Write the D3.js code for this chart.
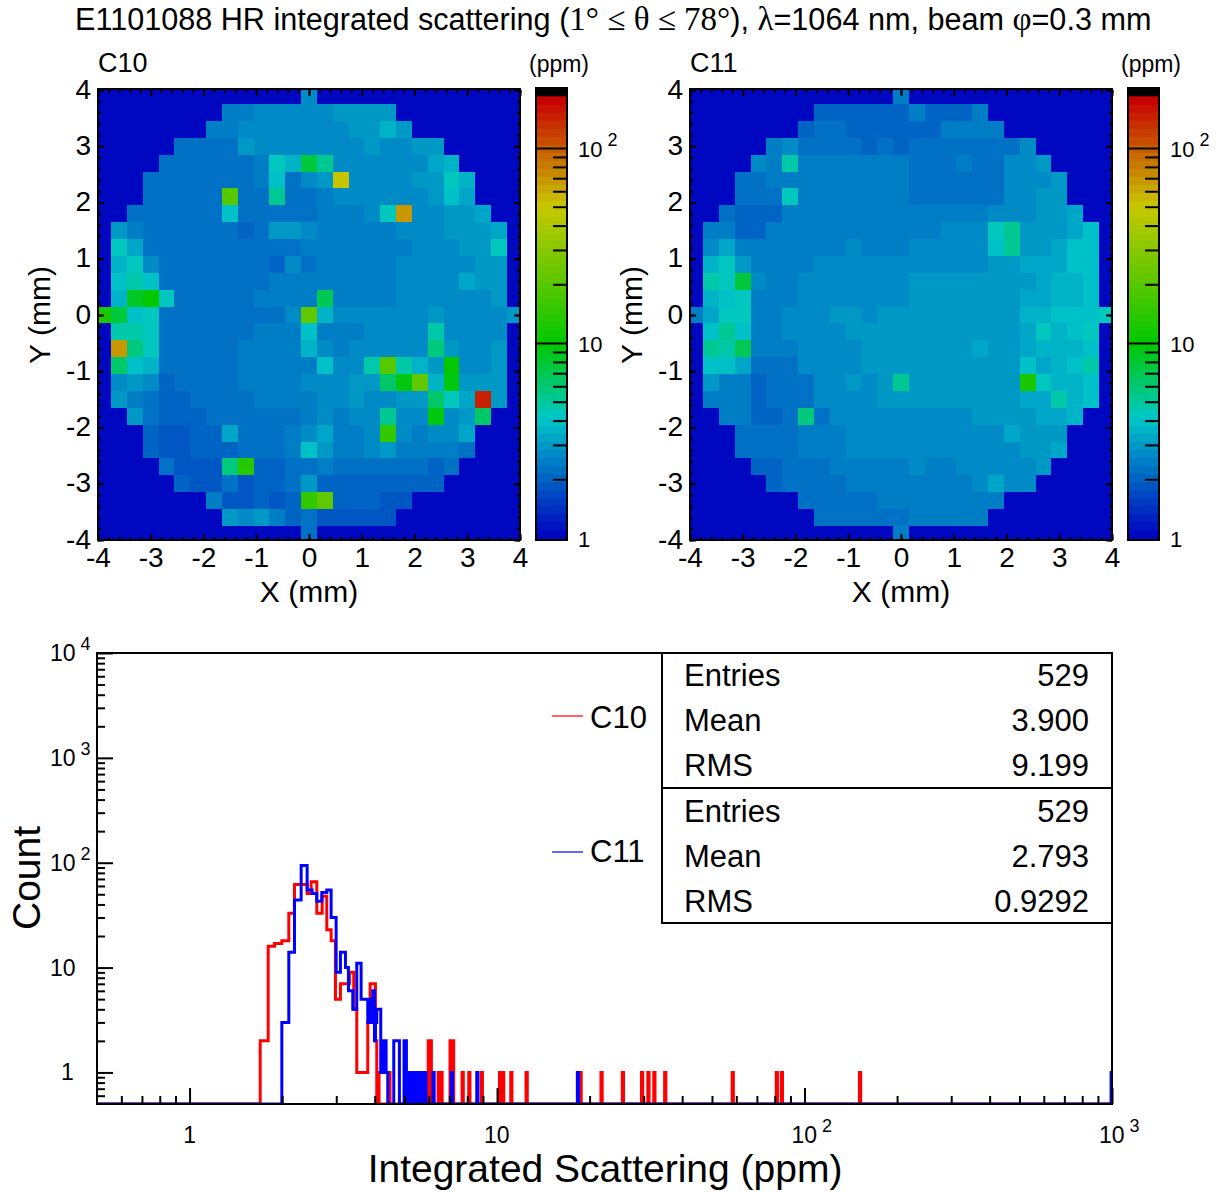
<!DOCTYPE html>
<html>
<head>
<meta charset="utf-8">
<script src="https://cdn.jsdelivr.net/npm/d3@7"></script>
<style>
  html, body { margin: 0; padding: 0; background: #fff; }
  svg { display: block; }
  text { font-family: "Liberation Sans", Arial, sans-serif; fill: #000; }
</style>
</head>
<body>
<svg id="chart" width="1225" height="1192"></svg>
<script>
// scattering per cell (ppm), top row is y=+3.9, left column is x=-3.9, 0 = not measured
var c10Rows = [
[0,0,0,0,0,0,0,0,0,0,0,0,0,2.8,0,0,0,0,0,0,0,0,0,0,0,0,0],
[0,0,0,0,0,0,0,0,2.4,2.4,2.7,2.7,2.7,2.7,2.7,3,3,3,3.1,0,0,0,0,0,0,0,0],
[0,0,0,0,0,0,0,2.4,2.4,2.7,2.7,2.7,2.7,2.7,2.7,2.7,2.9,2.9,3.5,3.1,0,0,0,0,0,0,0],
[0,0,0,0,0,2.3,2.3,2.3,2.3,3.1,2.8,2.6,2.6,2.6,2.7,2.7,2.7,3.1,2.7,2.7,3.1,3.1,0,0,0,0,0],
[0,0,0,0,2.2,2.3,2.3,2.3,2.3,2.3,2.5,4.5,3.6,7.5,5.5,2.7,2.7,2.7,2.8,2.8,2.8,3.2,3.7,0,0,0,0],
[0,0,0,2.2,2.2,2.2,2.3,2.3,2.3,2.3,2.5,4,2.3,2.7,3,50,2.7,2.7,2.7,2.7,3,3,4.3,3.7,0,0,0],
[0,0,0,2.2,2.2,2.2,2.2,2.3,20,2.3,2.3,5.5,2.3,2.3,2.4,2.7,2.7,2.7,2.7,2.7,2.7,3,3.9,3.3,0,0,0],
[0,0,2.3,2.2,2.2,2.2,2.2,2.3,4,2.3,2.3,2.3,2.3,2.3,2.4,2.4,2.4,2.6,4.2,70,2.7,2.7,3,3,3.2,0,0],
[0,3,2.5,2.2,2.2,2.2,2.2,2.2,2.15,2.1,2.25,2.9,2.9,2.6,2.35,2.35,2.35,2.35,2.5,2.8,2.7,2.7,3,3,3,3.3,0],
[0,4.2,3.2,2.2,2.2,2.2,2.2,2.2,2.2,2.2,2.3,2.3,2.3,2.35,2.35,2.35,2.35,2.35,2.35,2.35,2.7,2.7,2.7,2.9,2.9,4.2,0],
[0,3.6,4.4,2.6,2.15,2.15,2.15,2.15,2.15,2.15,2.15,2.1,2.6,2.3,2.35,2.35,2.35,2.35,2.35,2.7,2.7,2.7,2.7,2.7,3,3,0],
[0,4,4.8,4.1,2.2,2.2,2.2,2.2,2.2,2.2,2.2,2.35,2.35,2.35,2.35,2.35,2.35,2.35,2.35,2.7,2.7,2.7,2.7,3.2,3,3,0],
[0,3.5,8.5,10.5,4.4,2.2,2.2,2.2,2.2,2.2,2.35,2.35,2.35,2.35,7,2.5,2.5,2.5,2.5,2.8,2.7,2.7,2.7,2.7,2.7,3,0],
[12,7.5,4,4.3,2.2,2.2,2.2,2.2,2.2,2.2,2.2,2.3,2.7,22,3.5,2.6,2.6,2.6,2.8,2.8,2.8,3,2.8,2.8,2.8,2.8,2.9],
[0,5,5,4.5,2.2,2.2,2.2,2.2,2.2,2.2,2.35,2.35,2.35,4.1,2.4,2.4,2.4,2.6,2.6,2.6,2.6,5,2.7,2.7,2.7,2.7,0],
[0,70,6,4.5,2.2,2.2,2.2,2.2,2.2,2.35,2.35,2.35,2.35,3.7,2.6,2.4,2.7,2.7,2.7,2.7,2.7,6,3,2.7,2.7,3,0],
[0,6.5,4,3.7,2.2,2.2,2.2,2.2,2.2,2.35,2.35,2.35,2.35,2.5,4.1,2.7,2.7,5,20,5,3.7,2.9,10.5,2.7,2.7,3,0],
[0,2.7,3,2.7,1.95,2.2,2.2,2.2,2.2,2.35,2.35,2.35,2.35,2.75,2.75,2.75,3,3,6.5,9.5,21,3.7,9,3,3,3,0],
[0,3,2.4,2.15,2,2,2.15,2.15,2.15,2.15,2.35,2.35,2.35,2.5,2.7,2.7,3,2.6,2.6,2.85,2.85,6.5,4.2,3.3,150,3,0],
[0,0,3,2.2,2,2,2,2.15,2.15,2.15,2.15,2.3,2.3,2.5,2.7,2.4,2.8,2.8,5.2,2.8,2.8,9.5,2.7,3,6.5,0,0],
[0,0,0,2.1,1.85,1.85,2,2,3.2,2.2,2.2,2.2,2.35,2.7,3.2,2.35,2.35,2.7,15,2.7,2.4,2.7,2.7,3.3,0,0,0],
[0,0,0,2.1,1.85,1.85,2,2,2,2.2,2.2,2.2,2.35,3.8,3,2.35,2.35,2.7,3,2.4,2.4,2.4,2.4,2.15,0,0,0],
[0,0,0,0,2.3,1.9,1.9,1.9,6,14,2,2,2.2,2.2,2.4,2.2,2.2,2.2,2.2,2.2,2.2,2,2.3,0,0,0,0],
[0,0,0,0,0,2.1,1.9,1.9,2.3,1.85,2,2,2.2,2.9,2,2,2,2,2,2,2,2,0,0,0,0,0],
[0,0,0,0,0,0,0,2.5,1.85,1.85,2,1.8,2,15,22,2.05,2.05,2.05,1.9,1.9,0,0,0,0,0,0,0],
[0,0,0,0,0,0,0,0,2.9,2.6,3.1,2.4,2,2.2,1.85,1.85,1.85,1.85,1.85,0,0,0,0,0,0,0,0],
[0,0,0,0,0,0,0,0,0,0,0,0,0,2.2,0,0,0,0,0,0,0,0,0,0,0,0,0]
]
var c11Rows = [
[0,0,0,0,0,0,0,0,0,0,0,0,0,2.5,0,0,0,0,0,0,0,0,0,0,0,0,0],
[0,0,0,0,0,0,0,0,2.1,2.1,2.1,2.1,2.1,2.1,2.4,2.1,2.1,2.1,2.4,0,0,0,0,0,0,0,0],
[0,0,0,0,0,0,0,2.1,2.3,2.3,2.1,2.1,2.1,2.1,2.1,2.1,2.35,2.35,2.35,2.35,0,0,0,0,0,0,0],
[0,0,0,0,0,2.4,2.8,2.3,2.3,2.3,2.3,2.1,2.3,2.1,2.15,2.15,2.3,2.3,2.3,2.3,2.3,2.6,0,0,0,0,0],
[0,0,0,0,2.8,2.5,4.8,2.35,2.35,2.35,2.35,2.35,2.35,2.35,2.3,2.3,2.3,2.55,2.3,2.3,2.6,2.6,2.9,0,0,0,0],
[0,0,0,2.15,2.15,2.35,2.35,2.35,2.35,2.35,2.35,2.35,2.35,2.35,2.3,2.3,2.3,2.3,2.3,2.3,2.7,2.7,2.7,3,0,0,0],
[0,0,0,2.15,2.15,2.3,4.4,2.35,2.35,2.35,2.35,2.35,2.35,2.35,2.3,2.3,2.3,2.3,2.3,2.3,2.7,2.7,3,3,0,0,0],
[0,0,2.3,2.1,2.1,2.1,2.35,2.35,2.35,2.35,2.35,2.35,2.35,2.35,2.35,2.35,2.35,2.35,2.35,2.6,2.6,2.6,3,3,3.2,0,0],
[0,2.4,2.55,2.1,2.1,2.35,2.35,2.35,2.35,2.35,2.35,2.35,2.35,2.35,2.35,2.35,2.6,2.6,2.6,4.2,5.2,3.1,3.1,3.1,3.4,3.8,0],
[0,2.8,3.2,2.35,2.35,2.35,2.35,2.35,2.35,2.35,2.6,2.35,2.35,2.35,2.6,2.6,2.6,2.6,2.6,4.1,5.2,3.1,3.1,3.3,3.8,3.8,0],
[0,3.7,4.4,3.1,2.35,2.35,2.35,2.35,2.8,2.8,2.8,2.8,2.8,2.8,2.8,2.7,2.6,2.6,2.6,3,3,3.3,3.3,3.3,3.8,3.8,0],
[0,4.6,4.3,7.5,2.7,2.35,2.35,2.8,2.8,2.8,2.8,2.8,2.8,2.8,3.1,2.85,2.85,3,3,3,3,3,3.4,3.7,3.7,4.1,0],
[0,3.7,4,4.5,2.4,2.4,2.4,2.8,2.8,2.8,2.8,2.8,2.8,2.8,3.1,3.1,3.1,3.1,3.1,3.1,3.1,3.4,3.4,3.7,3.7,4.1,0],
[2.5,3.3,4.5,4.5,2.4,2.4,2.7,2.7,2.7,3,3,2.7,3,3.1,3.1,3.1,3.1,3.1,3.1,3.1,3.1,3.6,3.6,3.8,3.8,4,4.5],
[0,4.1,5.2,4,2.4,2.4,2.8,2.8,2.8,2.8,3.1,3.1,3.1,3.1,3.1,3.1,3.1,3.1,3.1,3.1,3.1,3.3,4.2,3.6,4,4.2,0],
[0,5.5,4.6,7,2.4,2.4,2.4,2.8,2.8,2.8,2.8,3.1,3.1,3.1,3.1,3.1,3.1,3.1,3.3,3.1,3.1,3.3,3.6,3.6,3.6,4.1,0],
[0,3.8,3.8,3.2,2.15,2.3,2.3,2.8,2.8,2.8,2.8,3.1,3.1,3.1,3.1,3.1,3.1,3.1,3.1,3.1,3.1,3.8,3.2,3.7,4.1,4.6,0],
[0,3,2.5,2.35,2.1,2.25,2.25,2.25,2.7,2.7,2.9,2.75,3.1,5.5,3.1,3.1,3.1,3.1,3.1,3.1,3.1,12,4.3,3.7,3.7,4.1,0],
[0,2.45,2.45,2.45,2.1,2.25,2.25,2.25,2.7,2.7,2.7,2.7,3,3,3,3,3,3,3,3,3,3.3,3.3,4.6,3.5,4,0],
[0,0,2.4,2.4,2.1,2.1,2.3,6,2.3,2.75,2.75,2.75,2.75,2.75,2.75,2.75,2.75,2.75,3,3,3,3,3.2,3.2,3.5,0,0],
[0,0,0,2.15,2.15,2.15,2.15,2.4,2.4,2.4,2.75,2.75,2.75,2.75,2.8,2.8,2.8,2.8,2.8,2.8,3.3,3.05,3.05,3.05,0,0,0],
[0,0,0,2.15,2.15,2.15,2.15,2.4,2.4,2.4,2.75,2.75,2.75,2.75,2.8,2.8,2.8,2.8,2.8,2.8,2.8,3,3,3.4,0,0,0],
[0,0,0,0,1.95,1.95,2.15,2.15,2.15,2.35,2.35,2.35,2.35,2.35,2.6,2.35,2.35,2.6,2.6,2.6,2.6,2.6,3,0,0,0,0],
[0,0,0,0,0,1.95,2.15,2.15,2.15,2.15,2.35,2.35,2.35,2.35,2.35,2.35,2.35,2.35,2.6,3.2,2.6,2.6,0,0,0,0,0],
[0,0,0,0,0,0,0,2.2,2.2,2.2,2.2,2.2,2.35,2.35,2.4,2.4,2.4,2.4,2.4,2.4,0,0,0,0,0,0,0],
[0,0,0,0,0,0,0,0,2.15,2.15,2.15,2.15,2.15,2.15,2.4,2.4,2.4,2.4,2.4,0,0,0,0,0,0,0,0],
[0,0,0,0,0,0,0,0,0,0,0,0,0,2.4,0,0,0,0,0,0,0,0,0,0,0,0,0]
]

// histogram, bin lower edges in log10(ppm) and counts
var c10Edges = [.2297,.2557,.2762,.3001,.3228,.3412,.3824,.3954,.4138,.4312,.4463,.4604,.4745,.4907,.52,.534,.5438,.5796,.5872,.6045,.6088]
var c10Counts = [2,16,17,18,33,62,51,66,33,48,23,18,5,7,9,4,1,3,7,2,0]
var c11Edges = [.3001,.3228,.3412,.3629,.3824,.3987,.4138,.4301,.4463,.4604,.4767,.4907,.507,.5167,.5308,.5438,.5579,.5796,.5828,.5861,.5893,.5926,.5958,.6013,.6045,.6088,.6218,.6262,.6305,.6348,.6392,.6446,.6641,.6825,.6975,.7053]
var c11Counts = [3,14,44,94,55,51,43,52,55,30,9,14,10,6,4,11,5,3,5,3,5,3,6,2,3,4,1,2,1,2,1,0,2,0,2,0]

// single outlier bins above the main peak, log10(ppm) and counts
var c10SpikeAt = [.6142,.65,.7183,.7572,.7782,.7845,.8105,.8195,.849,.857,.8883,.91,.9506,1.01,1.02,1.0465,1.0963,1.2718,1.34,1.4094,1.4717,1.4924,1.5117,1.547,1.7666,1.91,1.9265,2.1807]
var c10SpikeCounts = [1,1,1,1,2,2,1,1,2,2,1,1,1,1,1,1,1,1,1,1,1,1,1,1,1,1,1,1]
var c11SpikeAt = [.715,.726,.737,.7475,.758,.767,.7936,.853,.936,1.2632,2.999]
var c11SpikeCounts = [1,1,1,1,1,1,1,1,1,1,1]

var mapTicks = [-4,-3,-2,-1,0,1,2,3,4]
var barTicks = [2,3,4,5,6,7,8,9,20,30,40,50,60,70,80,90]
var histDecadesX = [1,10,100,1000]
var histDecadesY = [1,10,100,1000,10000]
var statNames = ["Entries","Mean","RMS"]
var c10Stats = ["529","3.900","9.199"]
var c11Stats = ["529","2.793","0.9292"]

var svg = d3.select("#chart")

// palette: blue, cyan, green, yellow, red against log10(ppm), in 55 flat bands
var nLevels = 55
var barTop = 184
var paletteScale = d3.scaleLinear()
    .domain([0, 0.62, 1, 1.7, 2.25])
    .range(["#0000c0", "#00c8c8", "#00c800", "#c8c800", "#c80000"])

function levelOf(v) {
    if (v <= 1) return 0
    return Math.min(nLevels - 1, Math.floor(Math.log10(v) / Math.log10(barTop) * nLevels))
}
function colorOf(v) {
    if (v > barTop) return "#000"
    return paletteScale((levelOf(v) + 0.5) / nLevels * Math.log10(barTop))
}

function superLabel(sel, base, power) {
    sel.text(base)
    sel.append("tspan")
        .attr("dx", 5)
        .attr("dy", -11)
        .style("font-size", "18px")
        .text(power)
}

function drawAxis(g, axis, values, size, labels) {
    g.call(axis.tickValues(values).tickSize(size).tickSizeOuter(0).tickFormat(labels || ""))
    g.select(".domain").remove()
    g.selectAll("line").attr("stroke", "#000").attr("stroke-width", 2)
}

function drawMap(rows, name, left) {
    var x = d3.scaleLinear().domain([-4, 4]).range([left, left + 422])
    var y = d3.scaleLinear().domain([-4, 4]).range([540, 90])
    var g = svg.append("g")
    var minors = d3.range(-4, 4.01, 0.2).map(d => +d.toFixed(1))

    svg.append("clipPath").attr("id", "clip" + name)
        .append("rect")
        .attr("x", left).attr("y", 90).attr("width", 422).attr("height", 450)

    var cells = []
    rows.forEach(function(row, r) {
        row.forEach(function(v, c) {
            cells.push({ col: c, row: r, v: v })
        })
    })
    g.append("g")
        .attr("clip-path", "url(#clip" + name + ")")
        .attr("shape-rendering", "crispEdges")
        .selectAll("rect")
        .data(cells)
        .enter()
        .append("rect")
            .attr("x", d => x(-4.05 + d.col * 0.3))
            .attr("y", d => y(4.05 - d.row * 0.3))
            .attr("width", x(0.3) - x(0) + 0.5)
            .attr("height", y(0) - y(0.3) + 0.5)
            .attr("fill", d => colorOf(d.v))

    var bottom = g.append("g").attr("transform", "translate(0,540)")
    drawAxis(bottom.append("g"), d3.axisBottom(x), minors, -3)
    drawAxis(bottom.append("g"), d3.axisBottom(x), mapTicks, -6, d => String(d))
    bottom.selectAll("text").attr("dy", 0).attr("y", 27).style("font-size", "28px")
    var top = g.append("g").attr("transform", "translate(0,90)")
    drawAxis(top.append("g"), d3.axisTop(x), minors, -3)
    drawAxis(top.append("g"), d3.axisTop(x), mapTicks, -6)
    var leftAxis = g.append("g").attr("transform", "translate(" + left + ",0)")
    drawAxis(leftAxis.append("g"), d3.axisLeft(y), minors, -3)
    drawAxis(leftAxis.append("g"), d3.axisLeft(y), mapTicks, -6, d => String(d))
    leftAxis.selectAll("text")
        .attr("x", -7).attr("dy", "0.29em").attr("text-anchor", "end").style("font-size", "28px")
    var rightAxis = g.append("g").attr("transform", "translate(" + (left + 422) + ",0)")
    drawAxis(rightAxis.append("g"), d3.axisRight(y), minors, -3)
    drawAxis(rightAxis.append("g"), d3.axisRight(y), mapTicks, -6)

    g.append("rect")
        .attr("x", left).attr("y", 89).attr("width", 422).attr("height", 451)
        .attr("fill", "none").attr("stroke", "#000").attr("stroke-width", 2)

    g.append("text").attr("x", left).attr("y", 72).style("font-size", "27px").text(name)
    g.append("text")
        .attr("x", left + 211).attr("y", 602)
        .attr("text-anchor", "middle").style("font-size", "30px")
        .text("X (mm)")
    g.append("text")
        .attr("transform", "translate(" + (left - 48) + ",315) rotate(-90)")
        .attr("text-anchor", "middle").style("font-size", "30px")
        .text("Y (mm)")

    // colour bar
    var barX = left + 438
    var barY = d3.scaleLog().domain([1, 100]).range([538, 148])
    var levels = d3.range(nLevels)
    g.append("rect")
        .attr("x", barX).attr("y", 530).attr("width", 31).attr("height", 10)
        .attr("fill", paletteScale(0))
    g.append("g")
        .attr("shape-rendering", "crispEdges")
        .selectAll("rect")
        .data(levels)
        .enter()
        .append("rect")
            .attr("x", barX)
            .attr("width", 31)
            .attr("y", d => barY(Math.pow(barTop, (d + 1) / nLevels)))
            .attr("height", d => barY(Math.pow(barTop, d / nLevels)) - barY(Math.pow(barTop, (d + 1) / nLevels)) + 0.5)
            .attr("fill", d => paletteScale((d + 0.5) / nLevels * Math.log10(barTop)))
    g.append("rect")
        .attr("x", barX).attr("y", 88).attr("width", 31).attr("height", barY(barTop) - 88)
        .attr("fill", "#000")
    g.append("rect")
        .attr("x", barX).attr("y", 88).attr("width", 31).attr("height", 452)
        .attr("fill", "none").attr("stroke", "#000").attr("stroke-width", 2)

    var barAxisG = g.append("g").attr("transform", "translate(" + (barX + 31) + ",0)")
    drawAxis(barAxisG.append("g"), d3.axisRight(barY), barTicks, -14)
    drawAxis(barAxisG.append("g"), d3.axisRight(barY), [10, 100], -31)
    var barLabels = [["1", null, 1, 0], ["10", null, 10, 0], ["10", "2", 100, 0]]
    barLabels.forEach(function(b) {
        var t = g.append("text")
            .attr("x", barX + 42)
            .attr("y", barY(b[2]) + 9 + b[3])
            .style("font-size", "22px")
        if (b[1]) superLabel(t, b[0], b[1])
        else t.text(b[0])
    })
    g.append("text")
        .attr("x", barX + 23).attr("y", 72)
        .attr("text-anchor", "middle").style("font-size", "23px")
        .text("(ppm)")
}

drawMap(c10Rows, "C10", 98)
drawMap(c11Rows, "C11", 690)

// title with the maths part in a serif face
var title = svg.append("text").attr("x", 75).attr("y", 30).style("font-size", "30.6px")
title.append("tspan").text("E1101088 HR integrated scattering (")
title.append("tspan").style("font-family", "'Liberation Serif'").style("font-size", "33px").text("1° ≤ θ ≤ 78°")
title.append("tspan").text("), ")
title.append("tspan").style("font-family", "'Liberation Serif'").style("font-size", "33px").text("λ")
title.append("tspan").text("=1064 nm, beam ")
title.append("tspan").style("font-family", "'Liberation Serif'").style("font-size", "33px").text("φ")
title.append("tspan").text("=0.3 mm")

// bottom histogram
var histX = d3.scaleLog().domain([0.5, 1000]).range([97, 1112])
var histY = d3.scaleLog().domain([0.5, 10000]).range([1104, 653])

function minorsOf(decades) {
    var out = [0.6, 0.7, 0.8, 0.9]
    decades.slice(0, -1).forEach(function(d) {
        d3.range(2, 10).forEach(k => out.push(d * k))
    })
    return out
}

var histG = svg.append("g")
svg.append("clipPath").attr("id", "clipHist")
    .append("rect")
    .attr("x", 97).attr("y", 653).attr("width", 1015).attr("height", 450.5)

var histLine = d3.line()
    .curve(d3.curveStepAfter)
    .x(d => histX(Math.pow(10, d[0])))
    .y(d => histY(Math.max(d[1], 0.5)))

function histPoints(edges, counts, spikeAt, spikeCounts) {
    var pts = [[Math.log10(0.5), 0]]
    edges.forEach((e, i) => pts.push([e, counts[i]]))
    spikeAt.forEach(function(c, i) {
        pts.push([c - 0.002, spikeCounts[i]])
        pts.push([c + 0.002, 0])
    })
    pts.sort((a, b) => a[0] - b[0])
    pts.push([3, 0])
    return pts
}

var histLayer = histG.append("g").attr("clip-path", "url(#clipHist)")
histLayer.append("path")
    .attr("d", histLine(histPoints(c10Edges, c10Counts, c10SpikeAt, c10SpikeCounts)))
    .attr("fill", "none").attr("stroke", "#ff0000").attr("stroke-width", 3)
histLayer.append("path")
    .attr("d", histLine(histPoints(c11Edges, c11Counts, c11SpikeAt, c11SpikeCounts)))
    .attr("fill", "none").attr("stroke", "#0000ff").attr("stroke-width", 3)

var histBottom = histG.append("g").attr("transform", "translate(0,1104)")
drawAxis(histBottom.append("g"), d3.axisBottom(histX), minorsOf(histDecadesX), -8)
drawAxis(histBottom.append("g"), d3.axisBottom(histX), histDecadesX, -16)
var histLeft = histG.append("g").attr("transform", "translate(97,0)")
drawAxis(histLeft.append("g"), d3.axisLeft(histY), minorsOf(histDecadesY), -8)
drawAxis(histLeft.append("g"), d3.axisLeft(histY), histDecadesY, -16)

histDecadesX.forEach(function(d) {
    var power = Math.round(Math.log10(d))
    var t = histG.append("text")
        .attr("x", histX(d) - (d >= 10 ? 13 : 6.4))
        .attr("y", 1143)
        .style("font-size", "23px")
    if (power >= 2) superLabel(t, "10", power)
    else t.text(d)
})
histDecadesY.forEach(function(d) {
    var power = Math.round(Math.log10(d))
    var t = histG.append("text")
        .attr("x", d == 1 ? 61 : 50)
        .attr("y", histY(d) + 8)
        .style("font-size", "23px")
    if (power >= 2) superLabel(t, "10", power)
    else t.text(d)
})

histG.append("rect")
    .attr("x", 97).attr("y", 653).attr("width", 1015).attr("height", 451)
    .attr("fill", "none").attr("stroke", "#000").attr("stroke-width", 2)

histG.append("text")
    .attr("x", 605).attr("y", 1182)
    .attr("text-anchor", "middle").style("font-size", "39px")
    .text("Integrated Scattering (ppm)")
histG.append("text")
    .attr("transform", "translate(40,878) rotate(-90)")
    .attr("text-anchor", "middle").style("font-size", "39px")
    .text("Count")

// stats box and legend
histG.append("rect")
    .attr("x", 662).attr("y", 653).attr("width", 450).attr("height", 270)
    .attr("fill", "#fff").attr("stroke", "#000").attr("stroke-width", 2)
histG.append("line")
    .attr("x1", 662).attr("x2", 1112).attr("y1", 788).attr("y2", 788)
    .attr("stroke", "#000").attr("stroke-width", 2)

function drawStats(values, top) {
    var statY = d3.scalePoint().domain(statNames).range([top, top + 90])
    statNames.forEach(function(s, i) {
        histG.append("text").attr("x", 684).attr("y", statY(s)).style("font-size", "31px").text(s)
        histG.append("text").attr("x", 1089).attr("y", statY(s))
            .attr("text-anchor", "end").style("font-size", "31px").text(values[i])
    })
}
drawStats(c10Stats, 686)
drawStats(c11Stats, 822)

var legendItems = [["C10", "#ff0000", 716, 728], ["C11", "#0000ff", 852, 862]]
legendItems.forEach(function(l) {
    histG.append("line")
        .attr("x1", 552).attr("x2", 583).attr("y1", l[2]).attr("y2", l[2])
        .attr("stroke", l[1]).attr("stroke-width", 1.2)
    histG.append("text").attr("x", 590).attr("y", l[3]).style("font-size", "31px").text(l[0])
})
</script>
</body>
</html>
